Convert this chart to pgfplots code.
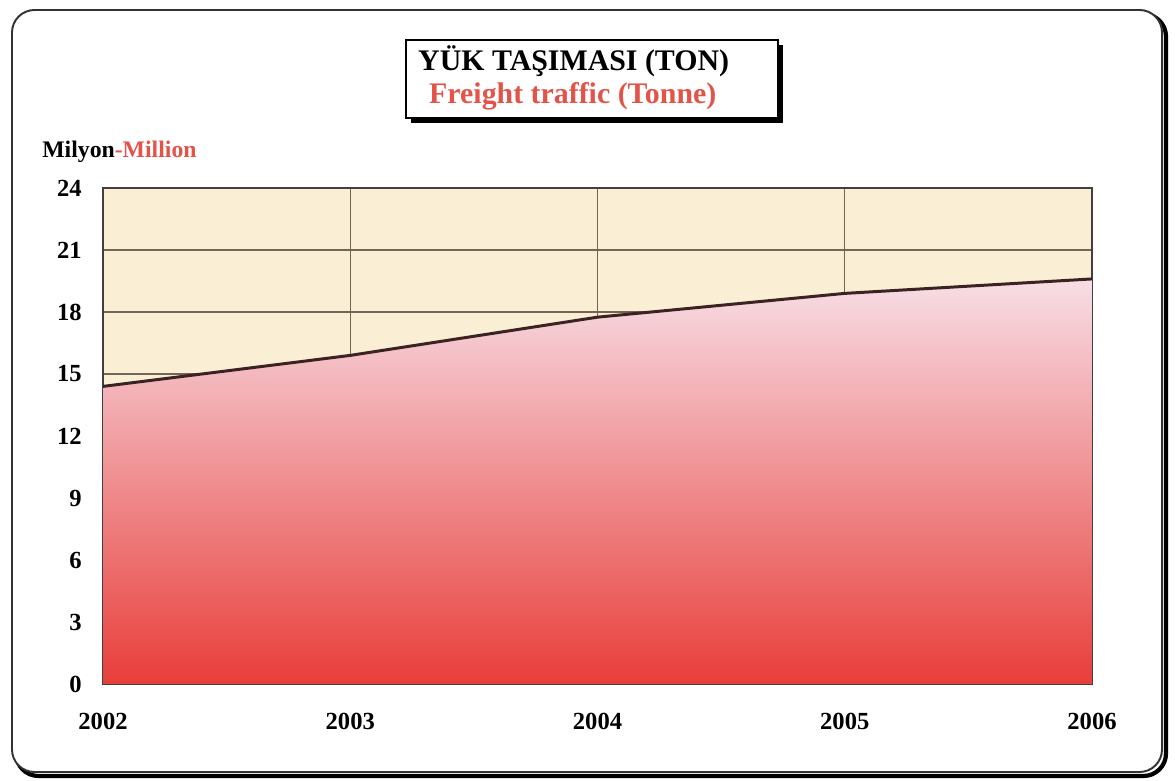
\documentclass[border=0pt]{standalone}
\usepackage{fontspec}
\setmainfont{Liberation Serif}
\usepackage{pgfplots}
\pgfplotsset{compat=1.18}
\definecolor{redtxt}{RGB}{226,84,74}
\definecolor{plotbg}{RGB}{250,238,212}
\definecolor{gridc}{RGB}{115,100,85}
\definecolor{areatop}{RGB}{247,222,230}
\definecolor{areamid}{RGB}{244,166,168}
\definecolor{areabot}{RGB}{232,62,58}
\definecolor{linec}{RGB}{60,35,35}
\begin{document}
\begin{tikzpicture}
\path[use as bounding box] (0,0) rectangle (23.5,15.62);
% outer frame with shadow
\draw[line width=2.4pt, black, rounded corners=0.45cm] (0.32,0.10) rectangle (23.32,15.34);
\draw[line width=1.1pt, black!80, fill=white, rounded corners=0.45cm] (0.24,0.18) rectangle (23.24,15.42);
% title box
\fill[black] (8.22,13.16) rectangle (15.66,14.72);
\draw[line width=1pt, black, fill=white] (8.12,13.26) rectangle (15.56,14.82);
\node[anchor=west, font=\fontsize{17}{20}\selectfont\bfseries] at (8.24,14.40) {YÜK TAŞIMASI (TON)};
\node[anchor=west, font=\fontsize{17}{20}\selectfont\bfseries, text=redtxt] at (8.46,13.70) {Freight traffic (Tonne)};
% unit label
\node[anchor=west, font=\fontsize{13.5}{15}\selectfont\bfseries, inner sep=0pt] at (0.84,12.58) {Milyon\textcolor{redtxt}{-Million}};
\begin{axis}[
    at={(2.06cm,1.94cm)}, anchor=south west,
    scale only axis,
    width=19.78cm, height=9.92cm,
    xmin=2002, xmax=2006,
    ymin=0, ymax=24,
    xtick={2002,2003,2004,2005,2006},
    ytick={0,3,6,9,12,15,18,21,24},
    xticklabel style={/pgf/number format/1000 sep={}},
    /pgf/number format/assume math mode=true,
    ticklabel style={font=\fontsize{14}{16}\selectfont\bfseries},
    xticklabel style={yshift=-0.45cm},
    yticklabel style={xshift=-0.3cm},
    major tick length=0pt,
    grid=major,
    major grid style={gridc, line width=0.7pt},
    axis line style={black!75, line width=1pt},
    axis background/.style={fill=plotbg},
]
% area
\addplot[draw=none, top color=areatop, middle color=areamid, bottom color=areabot]
coordinates {(2002,14.4) (2003,15.9) (2004,17.75) (2005,18.9) (2006,19.6)} \closedcycle;
% line
\addplot[linec, line width=1.7pt]
coordinates {(2002,14.4) (2003,15.9) (2004,17.75) (2005,18.9) (2006,19.6)};
\end{axis}
\end{tikzpicture}
\end{document}
